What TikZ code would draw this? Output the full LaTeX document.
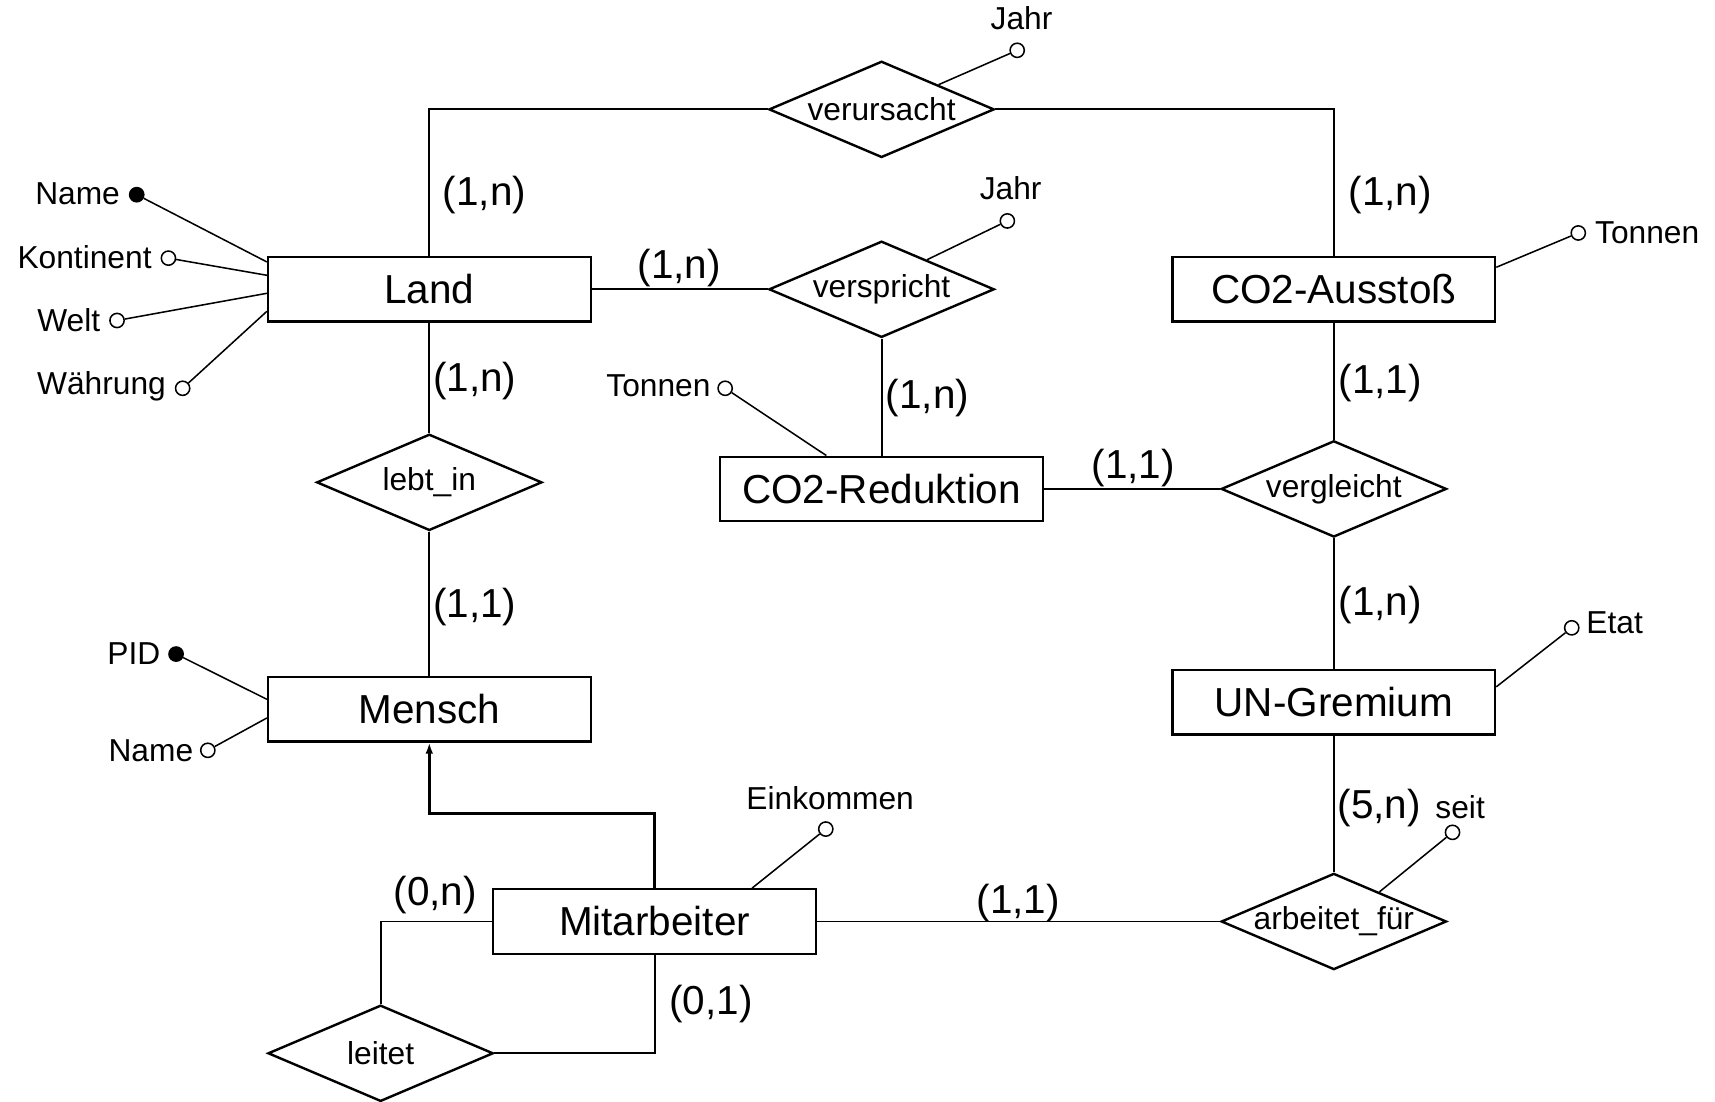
\documentclass[tikz,border=0pt]{standalone}
\usepackage{fontspec}
\setmainfont{Liberation Sans}
\usetikzlibrary{shapes.geometric,arrows.meta,calc}
% zero-width box so the diamond keeps its fixed size
\newcommand\ctr[1]{\makebox[0pt]{\raisebox{-1pt}{#1}}}
\begin{document}
\begin{tikzpicture}[x=0.5pt,y=-0.5pt,
  entity/.style={draw, line width=1pt, minimum width=147.5pt, minimum height=29.5pt, inner sep=0pt, font=\fontsize{18.5}{20}\selectfont},
  rel/.style={draw, diamond, line width=1.1pt, minimum width=103pt, minimum height=44pt, inner sep=0pt, font=\fontsize{14.5}{16}\selectfont},
  conn/.style={line width=0.9pt},
  attrline/.style={line width=0.7pt},
  attr/.style={circle, draw, line width=0.7pt, fill=white, minimum size=6.5pt, inner sep=0pt},
  key/.style={attr, fill=black},
  atext/.style={font=\fontsize{14.5}{16}\selectfont, inner sep=0pt},
  card/.style={font=\fontsize{18.5}{20}\selectfont, inner sep=0pt},
  isa/.style={line width=1.4pt, -{Latex[length=5pt,width=3.5pt]}}
]
\useasboundingbox (0,0) rectangle (1568,1007);

% entities
\node[entity] (land)   at (392.5,264.5) {Land};
\node[entity] (co2a)   at (1219.5,264.5) {CO2-Ausstoß};
\node[entity] (co2r)   at (806,447) {CO2-Reduktion};
\node[entity] (ung)    at (1219.5,642) {UN-Gremium};
\node[entity] (mensch) at (392.5,648.5) {Mensch};
\node[entity] (mit)    at (598.5,842.5) {Mitarbeiter};

% relationships
\node[rel] (vu) at (806,100) {\ctr{verursacht}};
\node[rel] (vs) at (806,264.5) {\ctr{verspricht}};
\node[rel] (vg) at (1219.5,447) {\ctr{vergleicht}};
\node[rel] (af) at (1219.5,842.5) {\ctr{arbeitet\_für}};
\node[rel] (li) at (392.5,441) {\ctr{lebt\_in}};
\node[rel] (le) at (348,963) {\ctr{leitet}};

% connectors
\draw[conn] (vu.west) -| (land.north);
\draw[conn] (vu.east) -| (co2a.north);
\draw[conn] (land.east) -- (vs.west);
\draw[conn] (vs.south) -- (co2r.north);
\draw[conn] (co2r.east) -- (vg.west);
\draw[conn] (co2a.south) -- (vg.north);
\draw[conn] (vg.south) -- (ung.north);
\draw[conn] (ung.south) -- (af.north);
\draw[conn] (mit.east) -- (af.west);
\draw[conn] (land.south) -- (li.north);
\draw[conn] (li.south) -- (mensch.north);
\draw[conn] (mit.west) -| (le.north);
\draw[conn] (le.east) -| (mit.south);
\draw[isa] (mit.north) -- ++(0,-68) -| (mensch.south);

% cardinalities
\node[card] (c1)  at (443,178) {(1,n)};
\node[card] (c2)  at (1271,178) {(1,n)};
\node[card] (c3)  at (621,245) {(1,n)};
\node[card] (c4)  at (848,364) {(1,n)};
\node[card] (c5)  at (1036,428) {(1,1)};
\node[card] (c6)  at (1262,350) {(1,1)};
\node[card] (c7)  at (1262,553) {(1,n)};
\node[card] (c8)  at (1261,739) {(5,n)};
\node[card] (c9)  at (931,826) {(1,1)};
\node[card] (c10) at (434,348) {(1,n)};
\node[card] (c11) at (434,555) {(1,1)};
\node[card] (c12) at (398,818) {(0,n)};
\node[card] (c13) at (650,918) {(0,1)};

% attributes of Land
\node[key]  (lname) at (125,178) {};
\node[atext, anchor=east] (tlname) at (110,177) {Name};
\node[attr] (lkont) at (154,236) {};
\node[atext, anchor=east] (tlkont) at (139,235) {Kontinent};
\node[attr] (lwelt) at (107,293) {};
\node[atext, anchor=east] (tlwelt) at (92,293) {Welt};
\node[attr] (lwaehr) at (167,355) {};
\node[atext, anchor=east] (tlwaehr) at (152,353) {Währung};
\draw[attrline] (lname)  -- ($(land.north west)!0.09!(land.south west)$);
\draw[attrline] (lkont)  -- ($(land.north west)!0.29!(land.south west)$);
\draw[attrline] (lwelt)  -- ($(land.north west)!0.56!(land.south west)$);
\draw[attrline] (lwaehr) -- ($(land.north west)!0.83!(land.south west)$);

% attributes of Mensch
\node[key]  (mpid) at (161,598) {};
\node[atext, anchor=east] (tmpid) at (147,598) {PID};
\node[attr] (mname) at (190,686) {};
\node[atext, anchor=east] (tmname) at (177,686) {Name};
\draw[attrline] (mpid)  -- ($(mensch.north west)!0.35!(mensch.south west)$);
\draw[attrline] (mname) -- ($(mensch.north west)!0.63!(mensch.south west)$);

% attribute of CO2-Ausstoss
\node[attr] (atonnen) at (1443,213) {};
\node[atext, anchor=west] (tatonnen) at (1458,213) {Tonnen};
\draw[attrline] (atonnen) -- ($(co2a.north east)!0.17!(co2a.south east)$);

% attribute of UN-Gremium
\node[attr] (uetat) at (1437,574) {};
\node[atext, anchor=west] (tuetat) at (1450,569) {Etat};
\draw[attrline] (uetat) -- ($(ung.north east)!0.27!(ung.south east)$);

% attribute of CO2-Reduktion
\node[attr] (rtonnen) at (663,355) {};
\node[atext, anchor=east] (trtonnen) at (650,353) {Tonnen};
\draw[attrline] (rtonnen) -- ($(co2r.north west)!0.33!(co2r.north east)$);

% attribute of Mitarbeiter
\node[attr] (mek) at (755,758) {};
\node[atext] (tmek) at (759,730) {Einkommen};
\draw[attrline] (mek) -- ($(mit.north west)!0.8!(mit.north east)$);

% attributes of relationships
\node[attr] (vujahr) at (930,46) {};
\node[atext] (tvujahr) at (934,17) {Jahr};
\draw[attrline] (vujahr) -- (vu.north east);
\node[attr] (vsjahr) at (921,202) {};
\node[atext] (tvsjahr) at (924,172) {Jahr};
\draw[attrline] (vsjahr) -- ($(vs.north)!0.4!(vs.east)$);
\node[attr] (afseit) at (1328,761) {};
\node[atext] (tafseit) at (1335,738) {seit};
\draw[attrline] (afseit) -- ($(af.north)!0.4!(af.east)$);
\end{tikzpicture}
\end{document}
